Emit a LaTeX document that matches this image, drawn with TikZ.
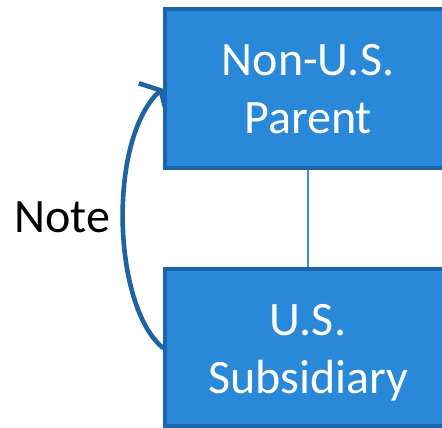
\documentclass[tikz,border=0pt]{standalone}
\usepackage{fontspec}
\setmainfont{Carlito}
\usetikzlibrary{arrows.meta}
\definecolor{boxfill}{RGB}{41,136,216}
\definecolor{boxline}{RGB}{30,100,168}
\definecolor{arrowcol}{RGB}{30,100,162}
\definecolor{linkcol}{RGB}{52,140,225}
\tikzset{
  bigbox/.style={draw=boxline, fill=boxfill, line width=4pt, rectangle, inner sep=0pt, minimum width=287pt},
  boxtext/.style={text=white, font=\fontsize{48}{58}\selectfont, anchor=base, inner sep=0pt},
  notetext/.style={text=black, font=\fontsize{48}{58}\selectfont, anchor=base, inner sep=0pt},
  link/.style={draw=linkcol, line width=2pt},
  notearrow/.style={draw=arrowcol, line width=4.6pt, line cap=round, -{Straight Barb[length=11pt,width=40pt,line width=4.6pt]}}
}
\begin{document}
\begin{tikzpicture}[x=1pt,y=-1pt]
\clip (0,0) rectangle (442,428);
\fill[white] (0,0) rectangle (442,428);
% invisible anchors for the boxes (drawn later to cover the arrow tip)
\node[bigbox, minimum height=159pt, draw=none, fill=none] (par) at (308,88.5) {};
\node[bigbox, minimum height=157pt, draw=none, fill=none] (sub) at (308,347.5) {};
\draw[notearrow] (sub.west) .. controls +(-50,-42) and +(-55,52) .. (par.west);
\node[bigbox, minimum height=159pt] (parbox) at (308,88.5) {};
\node[bigbox, minimum height=157pt] (subbox) at (308,347.5) {};
\draw[link] (parbox.south) -- (subbox.north);
\node[boxtext] (p1) at (308,76) {Non-U.S.};
\node[boxtext] (p2) at (308,133) {Parent};
\node[boxtext] (s1) at (308,335) {U.S.};
\node[boxtext] (s2) at (308,393) {Subsidiary};
\node[notetext] (note) at (62,232) {Note};
\end{tikzpicture}
\end{document}
